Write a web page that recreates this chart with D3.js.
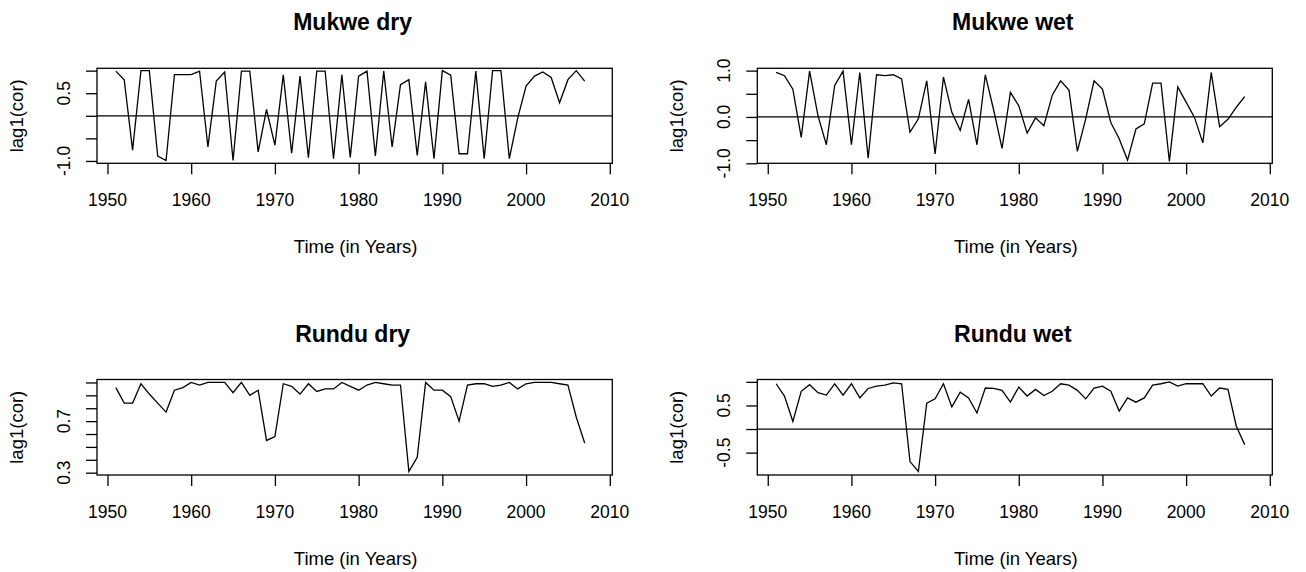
<!DOCTYPE html>
<html>
<head>
<meta charset="utf-8">
<script src="https://cdn.jsdelivr.net/npm/d3@7"></script>
<style>
  html, body { margin: 0; padding: 0; background: #fff; }
  svg { display: block; }
  text { font-family: "Liberation Sans", Arial, sans-serif; fill: #000; }
</style>
</head>
<body>
<svg id="chart" width="1306" height="572"></svg>
<script>
// Lag-1 correlation series, one value per year
const years = d3.range(1951, 2008);

const mukweDry = [
  0.99, 0.80, -0.76, 1.00, 1.00, -0.89, -0.99, 0.91, 0.91, 0.91,
  0.99, -0.69, 0.77, 0.97, -0.99, 0.99, 0.99, -0.80, 0.14, -0.65,
  0.91, -0.83, 0.88, -0.93, 0.99, 0.99, -0.95, 0.91, -0.92, 0.88,
  0.99, -0.89, 0.99, -0.69, 0.69, 0.80, -0.88, 0.75, -0.95, 1.00,
  0.90, -0.84, -0.84, 0.99, -0.95, 1.00, 1.00, -0.95, -0.05, 0.66,
  0.88, 0.97, 0.85, 0.29, 0.80, 1.00, 0.77
];

const mukweWet = [
  0.96, 0.89, 0.60, -0.44, 0.99, 0.03, -0.60, 0.68, 0.99, -0.60,
  0.96, -0.89, 0.91, 0.89, 0.91, 0.82, -0.33, -0.04, 0.78, -0.80,
  0.86, 0.10, -0.29, 0.38, -0.60, 0.91, 0.15, -0.68, 0.53, 0.24,
  -0.35, -0.02, -0.19, 0.47, 0.78, 0.58, -0.74, -0.04, 0.78, 0.60,
  -0.12, -0.47, -0.93, -0.26, -0.15, 0.73, 0.73, -0.96, 0.65, 0.32,
  -0.01, -0.56, 0.96, -0.21, -0.05, 0.21, 0.44
];

const runduDry = [
  0.96, 0.84, 0.84, 0.99, 0.91, 0.84, 0.77, 0.94, 0.96, 1.00,
  0.98, 1.00, 1.00, 1.00, 0.92, 1.00, 0.90, 0.94, 0.55, 0.58,
  0.99, 0.97, 0.91, 0.99, 0.93, 0.95, 0.95, 1.00, 0.97, 0.94,
  0.98, 1.00, 0.99, 0.98, 0.98, 0.31, 0.42, 1.00, 0.94, 0.94,
  0.89, 0.70, 0.98, 0.99, 0.99, 0.97, 0.98, 1.00, 0.95, 0.99,
  1.00, 1.00, 1.00, 0.99, 0.98, 0.73, 0.53
];

const runduWet = [
  0.96, 0.70, 0.16, 0.80, 0.94, 0.77, 0.72, 0.96, 0.72, 0.96,
  0.66, 0.86, 0.91, 0.93, 0.98, 0.96, -0.69, -0.90, 0.55, 0.64,
  0.96, 0.47, 0.78, 0.66, 0.34, 0.87, 0.86, 0.82, 0.57, 0.89,
  0.70, 0.84, 0.71, 0.80, 0.96, 0.93, 0.82, 0.64, 0.87, 0.91,
  0.80, 0.38, 0.66, 0.57, 0.66, 0.93, 0.96, 1.00, 0.91, 0.96,
  0.96, 0.96, 0.70, 0.87, 0.84, 0.06, -0.33
];

// Axis ticks and the subset of tick values that carry a label
const xTicks = [1950, 1960, 1970, 1980, 1990, 2000, 2010];
const mukweDryTicks = [-1, -0.5, 0, 0.5, 1];
const mukweDryLabels = [-1, 0.5];
const mukweWetTicks = [-1, -0.5, 0, 0.5, 1];
const mukweWetLabels = [-1, 0, 1];
const runduDryTicks = [0.3, 0.4, 0.5, 0.6, 0.7, 0.8, 0.9, 1.0];
const runduDryLabels = [0.3, 0.7];
const runduWetTicks = [-0.5, 0, 0.5, 1];
const runduWetLabels = [-0.5, 0.5];

const titles = ["Mukwe dry", "Mukwe wet", "Rundu dry", "Rundu wet"];

const panels = [
  { title: titles[0], values: mukweDry, yDomain: [-1.052, 1.052], ticks: mukweDryTicks, labels: mukweDryLabels, zeroLine: true },
  { title: titles[1], values: mukweWet, yDomain: [-1.0, 1.05], ticks: mukweWetTicks, labels: mukweWetLabels, zeroLine: true },
  { title: titles[2], values: runduDry, yDomain: [0.282, 1.023], ticks: runduDryTicks, labels: runduDryLabels, zeroLine: false },
  { title: titles[3], values: runduWet, yDomain: [-0.974, 1.05], ticks: runduWetTicks, labels: runduWetLabels, zeroLine: true }
];

// Plot-region geometry for the 2 x 2 grid
const cols = [{ left: 97, right: 612.3 }, { left: 757.3, right: 1272.3 }];
const rows = [{ top: 68.3, bottom: 163.3 }, { top: 379.5, bottom: 475 }];
const xDomain = [1948.75, 2010.3];

// one decimal, plain hyphen for negatives
const fmt = d => d.toFixed(1);

const svg = d3.select("#chart");

panels.forEach((p, i) => {
  const c = cols[i % 2];
  const r = rows[Math.floor(i / 2)];
  const x = d3.scaleLinear().domain(xDomain).range([c.left, c.right]);
  const y = d3.scaleLinear().domain(p.yDomain).range([r.bottom, r.top]);
  const g = svg.append("g");

  // bottom axis
  const xAxis = d3.axisBottom(x).tickValues(xTicks).tickSize(11).tickFormat("");
  const gx = g.append("g").attr("transform", `translate(0,${r.bottom})`).call(xAxis);
  gx.select(".domain").remove();
  gx.selectAll(".tick line").attr("stroke", "#000").attr("stroke-width", 1.3);
  g.selectAll(null).data(xTicks).join("text")
    .attr("x", d => x(d))
    .attr("y", r.bottom + 43)
    .attr("text-anchor", "middle")
    .attr("font-size", 17.5)
    .text(d => d);

  // left axis
  const yAxis = d3.axisLeft(y).tickValues(p.ticks).tickSize(11).tickFormat("");
  const gy = g.append("g").attr("transform", `translate(${c.left},0)`).call(yAxis);
  gy.select(".domain").remove();
  gy.selectAll(".tick line").attr("stroke", "#000").attr("stroke-width", 1.3);
  g.selectAll(null).data(p.labels).join("text")
    .attr("transform", d => `translate(${c.left - 27.5},${y(d)}) rotate(-90)`)
    .attr("text-anchor", "middle")
    .attr("font-size", 17.5)
    .text(fmt);

  // zero reference line
  if (p.zeroLine) {
    g.append("line")
      .attr("x1", c.left).attr("x2", c.right)
      .attr("y1", y(0)).attr("y2", y(0))
      .attr("stroke", "#000").attr("stroke-width", 1.3);
  }

  // series
  const line = d3.line().x((d, k) => x(years[k])).y(d => y(d));
  g.append("path")
    .datum(p.values)
    .attr("d", line)
    .attr("fill", "none")
    .attr("stroke", "#000")
    .attr("stroke-width", 1.3)
    .attr("stroke-linejoin", "miter");

  // frame
  g.append("rect")
    .attr("x", c.left).attr("y", r.top)
    .attr("width", c.right - c.left).attr("height", r.bottom - r.top)
    .attr("fill", "none").attr("stroke", "#000").attr("stroke-width", 1.3);

  // titles
  g.append("text")
    .attr("x", (c.left + c.right) / 2 - 2)
    .attr("y", r.top - 38)
    .attr("text-anchor", "middle")
    .attr("font-size", 23)
    .attr("font-weight", "bold")
    .text(p.title);

  g.append("text")
    .attr("x", (c.left + c.right) / 2 + 1)
    .attr("y", r.bottom + 90)
    .attr("text-anchor", "middle")
    .attr("font-size", 18.5)
    .text("Time (in Years)");

  g.append("text")
    .attr("transform", `translate(${c.left - 74},${(r.top + r.bottom) / 2}) rotate(-90)`)
    .attr("text-anchor", "middle")
    .attr("font-size", 18.5)
    .text("lag1(cor)");
});
</script>
</body>
</html>
